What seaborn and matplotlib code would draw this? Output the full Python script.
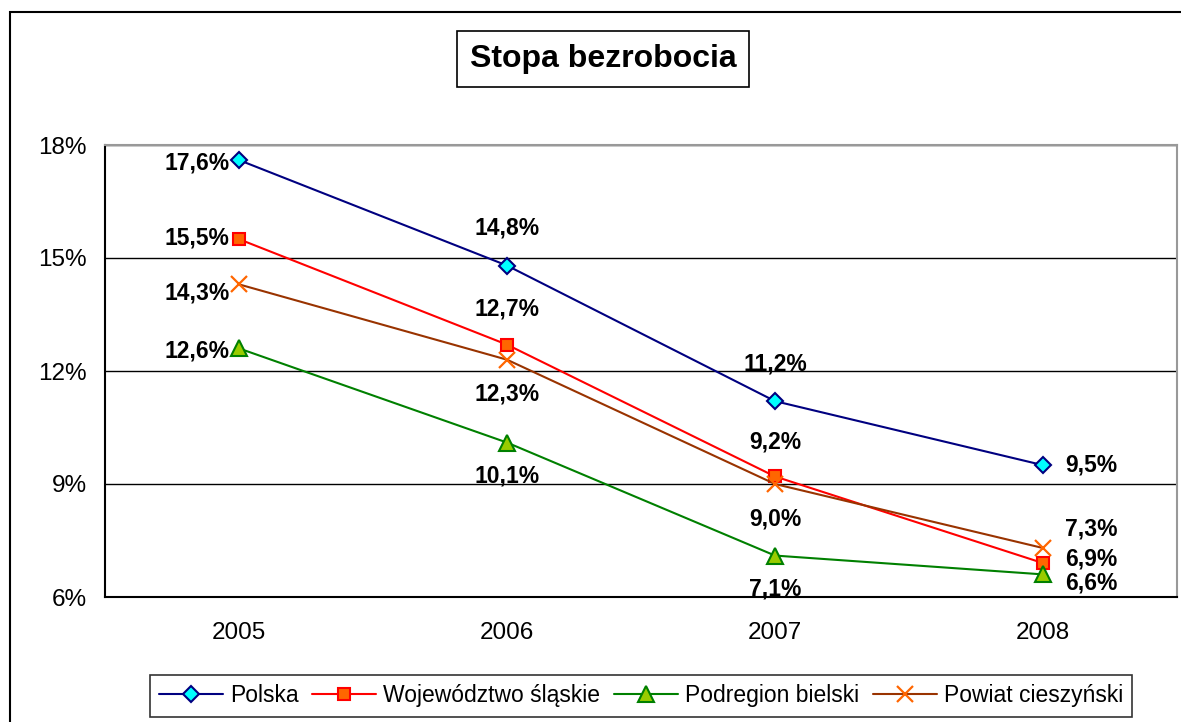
import matplotlib

matplotlib.use("Agg")

import matplotlib.pyplot as plt
import numpy as np
import pandas as pd
import seaborn as sns
from matplotlib.patches import Rectangle
from matplotlib.ticker import FixedLocator

years = ["2005", "2006", "2007", "2008"]
series_names = ["Polska", "Województwo śląskie", "Podregion bielski", "Powiat cieszyński"]
polska = [17.6, 14.8, 11.2, 9.5]
slaskie = [15.5, 12.7, 9.2, 6.9]
bielski = [12.6, 10.1, 7.1, 6.6]
cieszynski = [14.3, 12.3, 9.0, 7.3]
y_ticks = [6, 9, 12, 15, 18]

# label offsets in points (dx, dy) per series, per year
label_offsets = {
    "Polska": [(-30, -2), (0, 27), (0, 27), (35, 0)],
    "Województwo śląskie": [(-30, 1), (0, 26), (0, 25), (35, 3)],
    "Podregion bielski": [(-30, -2), (0, -24), (0, -24), (35, -6)],
    "Powiat cieszyński": [(-30, -6), (0, -25), (0, -25), (35, 14)],
}

styles = {
    "Polska": dict(color="#000080", marker="D", mfc="#00FFFF", mec="#000080", ms=8.5),
    "Województwo śląskie": dict(color="#FF0000", marker="s", mfc="#FF6600", mec="#FF0000", ms=9),
    "Podregion bielski": dict(color="#008000", marker="^", mfc="#99CC00", mec="#008000", ms=11),
    "Powiat cieszyński": dict(color="#993300", marker="x", mfc="#FF6600", mec="#FF6600", ms=11, mew=1.6),
}

values = [polska, slaskie, bielski, cieszynski]
df = pd.DataFrame(
    {
        "series": np.repeat(series_names, len(years)),
        "pos": np.tile(np.arange(len(years)), len(series_names)),
        "value": np.concatenate(values),
    }
)

sns.set_style("white")
plt.rcParams["font.family"] = ["Liberation Sans", "DejaVu Sans"]
plt.rcParams["text.color"] = "black"
plt.rcParams["xtick.color"] = "black"
plt.rcParams["ytick.color"] = "black"
plt.rcParams["xtick.labelcolor"] = "black"
plt.rcParams["ytick.labelcolor"] = "black"

fig = plt.figure(figsize=(11.81, 7.22), dpi=100)
ax = fig.add_axes([105 / 1181, 1 - 597 / 722, 1072 / 1181, 452 / 722])

for name in series_names:
    sub = df[df["series"] == name]
    st = dict(styles[name])
    color = st.pop("color")
    sns.lineplot(
        data=sub, x="pos", y="value", ax=ax, color=color, lw=1.5, label=name,
        marker=st.pop("marker"), markerfacecolor=st.pop("mfc"),
        markeredgecolor=st.pop("mec"), markersize=st.pop("ms"),
        markeredgewidth=st.pop("mew", 1.5), zorder=3,
    )
    for (x, y), (dx, dy) in zip(zip(sub["pos"], sub["value"]), label_offsets[name]):
        ax.annotate(
            f"{y:.1f}%".replace(".", ","), (x, y), xytext=(dx, dy),
            textcoords="offset points", ha="center", va="center",
            fontsize=16.5, fontweight="bold", color="black", zorder=5,
        )

ax.set_xlim(-0.5, len(years) - 0.5)
ax.set_ylim(6, 18)
ax.set_yticks(y_ticks)
ax.set_yticklabels([f"{t}%" for t in y_ticks], fontsize=17.5)
ax.xaxis.set_major_locator(FixedLocator(np.arange(len(years) + 1) - 0.5))
ax.xaxis.set_minor_locator(FixedLocator(np.arange(len(years))))
ax.set_xticklabels([], minor=False)
ax.set_xticklabels(years, minor=True, fontsize=17.5)
ax.tick_params(axis="x", which="major", length=7, direction="out", color="black", width=1)
ax.tick_params(axis="x", which="minor", length=0, pad=18)
ax.tick_params(axis="y", length=7, direction="out", color="black", width=1, pad=6)
ax.set_xlabel("")
ax.set_ylabel("")
ax.grid(axis="y", color="black", lw=1)
ax.grid(axis="x", visible=False)
for side in ["left", "bottom"]:
    ax.spines[side].set_color("black")
    ax.spines[side].set_linewidth(1.5)
for side in ["top", "right"]:
    ax.spines[side].set_color("#999999")
    ax.spines[side].set_linewidth(1.5)

handles, labels = ax.get_legend_handles_labels()
ax.get_legend().remove()
leg = fig.legend(
    handles, labels, loc="lower center", bbox_to_anchor=(641 / 1181, -6 / 722),
    ncol=4, fontsize=16.5, frameon=True, fancybox=False, edgecolor="black",
    handlelength=2.8, handletextpad=0.3, columnspacing=0.6, borderpad=0.4,
)
leg.get_frame().set_linewidth(1.2)
for t in leg.get_texts():
    t.set_color("black")

fig.text(603 / 1181, 1 - 59 / 722, "Stopa bezrobocia", ha="center", va="center",
         fontsize=23, fontweight="bold", color="black",
         bbox=dict(boxstyle="square,pad=0.4", fc="white", ec="black", lw=1.2))

fig.patches.append(Rectangle((10 / 1181, -0.1), 1.2, 1 - 12 / 722 + 0.1,
                             transform=fig.transFigure, fill=False, ec="black", lw=1.5))

fig.savefig("out.png", dpi=100)
